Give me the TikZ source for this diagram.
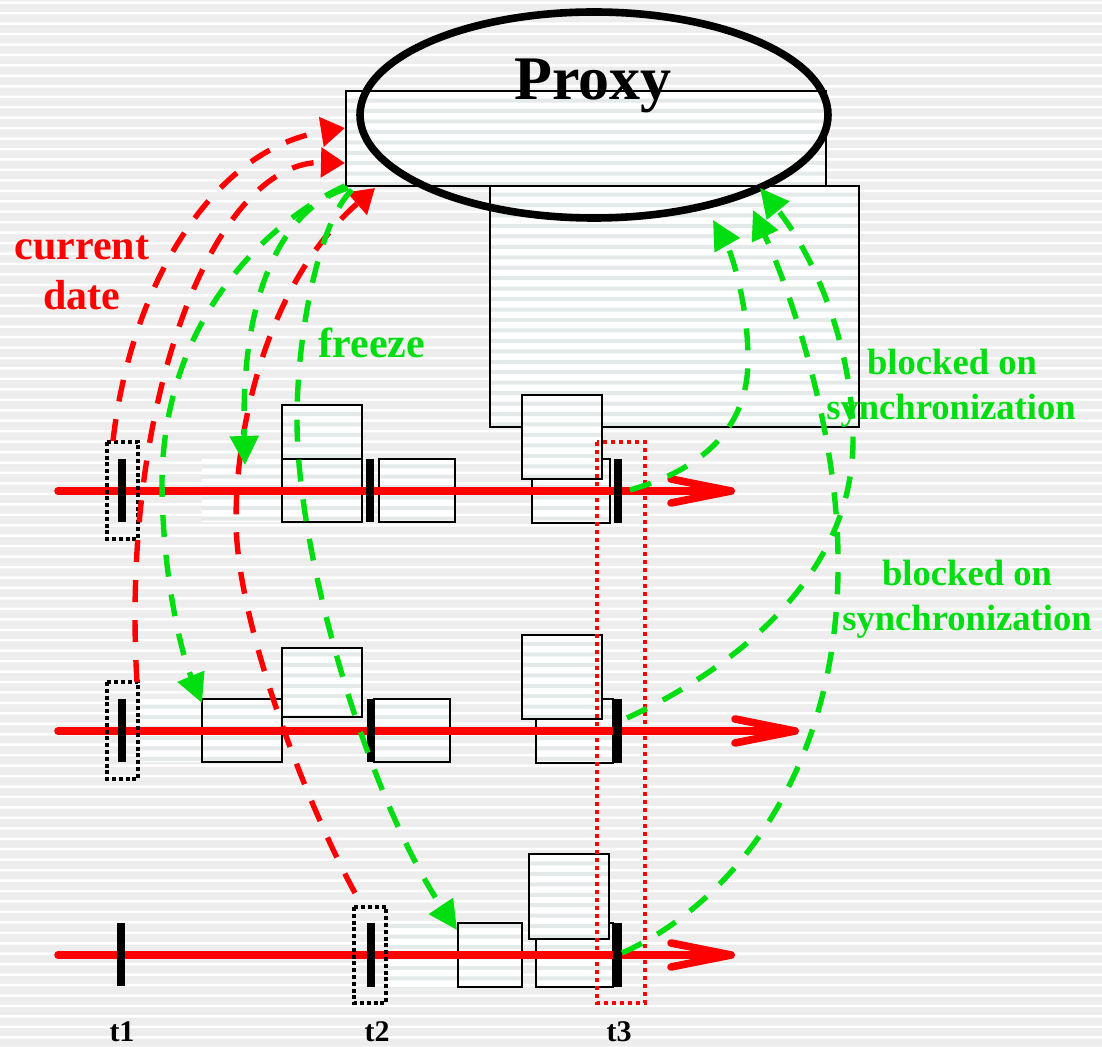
\documentclass[tikz,border=0pt]{standalone}
\usepackage{fontspec}
\setmainfont{Liberation Serif}
\usetikzlibrary{arrows.meta,shapes.geometric}

\definecolor{bgray}{RGB}{237,237,237}
\definecolor{boxband}{RGB}{228,234,234}
\definecolor{sgreen}{RGB}{0,221,17}
\definecolor{sred}{RGB}{255,0,0}

% striped rectangle: optional border style, then x1,y1,x2,y2 (pixel units)
\newcommand{\stripedbox}[5][draw=black]{%
  \begin{scope}
    \clip (#2,#3) rectangle (#4,#5);
    \fill[white] (#2,#3) rectangle (#4,#5);
    \fill[boxband] foreach \k in {0,...,99} {(0,\k*10.45+4.5) rectangle (1102,\k*10.45+8.5)};
  \end{scope}
  \path[#1, line width=0.9pt] (#2,#3) rectangle (#4,#5);
}

\tikzset{
  timeline/.style={draw=sred, line width=3.8pt, line cap=round, line join=round},
  tickbar/.style={fill=black},
  blackdots/.style={draw=black, line width=1.6pt, dash pattern=on 2pt off 1.4pt},
  reddots/.style={draw=sred, line width=1.7pt, dash pattern=on 2pt off 2pt},
  reddash/.style={draw=sred, line width=2.7pt, dash pattern=on 11pt off 9pt,
    -{Triangle[length=12pt,width=14.5pt]}},
  greendash/.style={draw=sgreen, line width=2.7pt, dash pattern=on 11pt off 9pt,
    -{Triangle[length=14.5pt,width=14pt]}},
  lbl/.style={font=\bfseries\fontsize{21}{21}\selectfont, anchor=base, inner sep=0pt},
  smalllbl/.style={font=\bfseries\fontsize{18.3}{18.3}\selectfont, anchor=base, inner sep=0pt, text=sgreen},
  timelbl/.style={font=\bfseries\fontsize{15}{15}\selectfont, anchor=base, inner sep=0pt},
}

\begin{document}
\begin{tikzpicture}[x=0.5pt, y=-0.5pt]
\useasboundingbox (0,0) rectangle (1102,1047);

% striped background
\fill[bgray] (0,0) rectangle (1102,1047);
\fill[white] foreach \k in {0,...,100} {(0,\k*10.45+1.5) rectangle (1102,\k*10.45+4)};

% proxy area
\stripedbox{346}{91}{826}{186}
\stripedbox{490}{186}{859}{427}

% boxes on the first timeline
\stripedbox[draw=none]{202}{459}{282}{522}
\stripedbox{282}{459}{362}{522}
\stripedbox{282}{405}{362}{459}
\stripedbox{379}{459}{455}{522}
\stripedbox{532}{459}{610}{523}
\stripedbox{522}{395}{602}{479}

% boxes on the second timeline
\stripedbox[draw=none]{139}{699}{202}{762}
\stripedbox{202}{699}{282}{762}
\stripedbox{282}{648}{362}{717}
\stripedbox{374}{699}{450}{762}
\stripedbox{536}{699}{613}{763}
\stripedbox{522}{635}{602}{719}

% boxes on the third timeline
\stripedbox[draw=none]{387}{923}{458}{987}
\stripedbox{458}{923}{522}{987}
\stripedbox{536}{923}{613}{987}
\stripedbox{529}{854}{609}{939}

% timelines
\coordinate (l1s) at (58,491);  \coordinate (l1e) at (731,491);
\coordinate (l2s) at (58,731);  \coordinate (l2e) at (795,731);
\coordinate (l3s) at (58,955);  \coordinate (l3e) at (731,955);
\draw[timeline] (l1s) -- (l1e);
\draw[timeline] (671,479) -- (l1e) -- (671,503);
\draw[timeline] (l2s) -- (l2e);
\draw[timeline] (735,719) -- (l2e) -- (735,743);
\draw[timeline] (l3s) -- (l3e);
\draw[timeline] (671,943) -- (l3e) -- (671,967);

% ticks
\fill[tickbar] (118,459) rectangle (126,522);
\fill[tickbar] (366,459) rectangle (374,522);
\fill[tickbar] (614,459) rectangle (622,523);
\fill[tickbar] (118,699) rectangle (126,762);
\fill[tickbar] (367,699) rectangle (375,762);
\fill[tickbar] (613,699) rectangle (622,763);
\fill[tickbar] (117,923) rectangle (125,986);
\fill[tickbar] (367,923) rectangle (375,987);
\fill[tickbar] (613,923) rectangle (622,987);

% marked instants
\draw[blackdots] (107,442) rectangle (138,539);
\draw[blackdots] (107,682) rectangle (138,779);
\draw[blackdots] (354,907) rectangle (386,1003);
\draw[reddots] (597,442) rectangle (645,1003);

% proxy
\node[ellipse, draw=black, line width=3.8pt, minimum width=234pt, minimum height=103pt, inner sep=0pt] (proxy) at (594,115) {};
\node[font=\bfseries\fontsize{31}{31}\selectfont, anchor=base, inner sep=0pt] (proxylbl) at (593,100) {Proxy};

% current date requests
\coordinate (r1s) at (113,441);  \coordinate (r1e) at (345,128);
\coordinate (r2s) at (137,682);  \coordinate (r2e) at (345,163);
\coordinate (r3s) at (355,893);  \coordinate (r3m) at (236,520);  \coordinate (r3e) at (375,188);
\draw[reddash] (r1s) .. controls (130,290) and (210,150) .. (r1e);
\draw[reddash] (r2s) .. controls (120,400) and (215,160) .. (r2e);
\draw[reddash] (r3s) .. controls (305,801) and (236,620) .. (r3m)
                     .. controls (236,420) and (270,280) .. (r3e);

% freeze orders
\coordinate (g1s) at (348,188);  \coordinate (g1e) at (245,465);
\coordinate (g2s) at (345,186);  \coordinate (g2m) at (162,480);  \coordinate (g2e) at (202,703);
\coordinate (g3s) at (352,190);  \coordinate (g3m) at (297,420);  \coordinate (g3e) at (457,930);
\draw[greendash] (g1s) .. controls (290,205) and (240,280) .. (g1e);
\draw[greendash] (g2s) .. controls (290,210) and (165,300) .. (g2m)
                       .. controls (162,570) and (180,650) .. (g2e);
\draw[greendash] (g3s) .. controls (320,220) and (297,330) .. (g3m)
                       .. controls (297,560) and (370,800) .. (g3e);

% blocked on synchronization
\coordinate (b1s) at (630,490);  \coordinate (b1m) at (748,360);  \coordinate (b1e) at (713,220);
\coordinate (b2s) at (627,718);  \coordinate (b2m) at (853,440);  \coordinate (b2e) at (760,188);
\coordinate (b3s) at (622,953);  \coordinate (b3m) at (838,560);  \coordinate (b3e) at (753,210);
\draw[greendash] (b1s) .. controls (700,470) and (748,430) .. (b1m)
                       .. controls (748,300) and (730,250) .. (b1e);
\draw[greendash] (b2s) .. controls (710,680) and (853,590) .. (b2m)
                       .. controls (853,340) and (810,250) .. (b2e);
\draw[greendash] (b3s) .. controls (740,900) and (840,760) .. (b3m)
                       .. controls (838,430) and (790,290) .. (b3e);

% labels
\node[lbl, text=sred] (cur) at (82,260) {current};
\node[lbl, text=sred] (date) at (82,310) {date};
\node[lbl, text=sgreen] (frz) at (372,358) {freeze};
\node[smalllbl] (bo1) at (952,375) {blocked on};
\node[smalllbl] (sy1) at (951,420) {synchronization};
\node[smalllbl] (bo2) at (967,585) {blocked on};
\node[smalllbl] (sy2) at (967,630) {synchronization};
\node[timelbl] (t1) at (122,1041) {t1};
\node[timelbl] (t2) at (377,1041) {t2};
\node[timelbl] (t3) at (619,1041) {t3};
\end{tikzpicture}
\end{document}
